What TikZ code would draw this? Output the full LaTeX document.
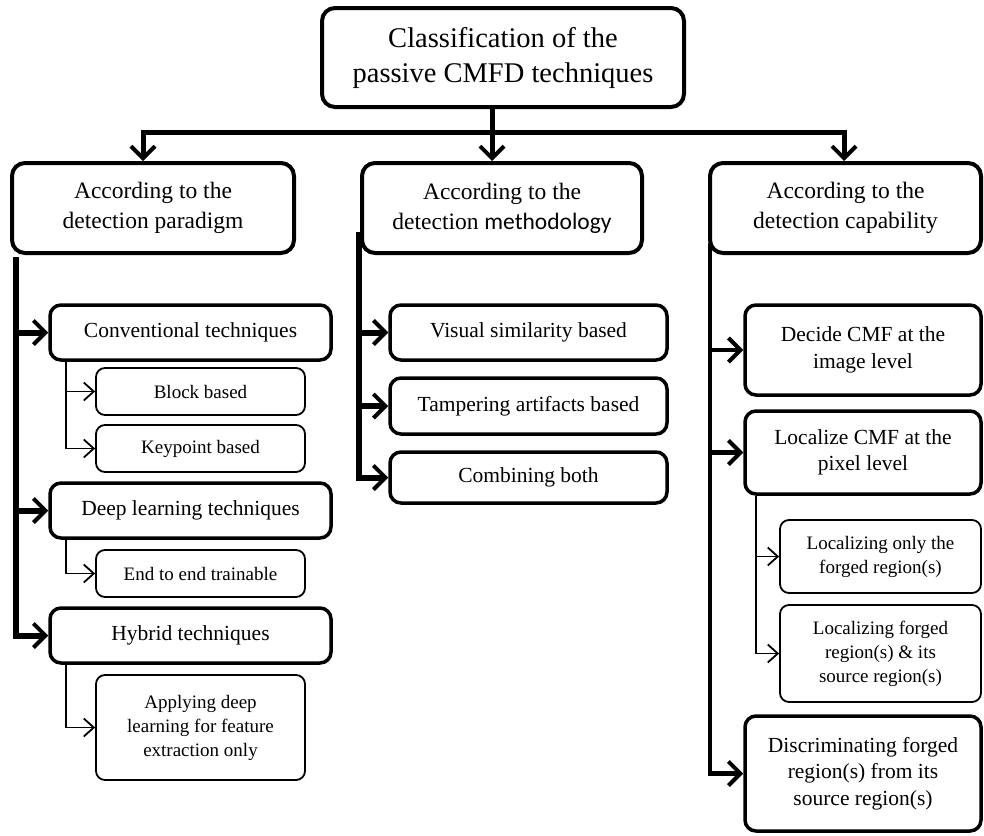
\documentclass[tikz,border=0pt]{standalone}
\usepackage{fontspec}
\setmainfont{Liberation Serif}
\newfontfamily\calfont{Carlito}
\usetikzlibrary{arrows.meta}
\tikzset{
  bigbox/.style={draw, line width=4pt, rounded corners=13pt, align=center, inner sep=0pt},
  midbox/.style={draw, line width=3.5pt, rounded corners=11pt, align=center, inner sep=0pt},
  subbox/.style={draw, line width=1.8pt, rounded corners=9pt, align=center, inner sep=0pt},
  ftop/.style={font=\fontsize{28.5}{35}\selectfont},
  fone/.style={font=\fontsize{23.5}{30}\selectfont},
  fmid/.style={font=\fontsize{21.5}{26.5}\selectfont},
  fsub/.style={font=\fontsize{19}{24}\selectfont},
  topconn/.style={line width=5pt},
  trunkA/.style={line width=6pt},
  trunkB/.style={line width=4.5pt},
  thinconn/.style={line width=1.8pt},
  bigtip/.style={-{Straight Barb[length=12pt,width=24pt,line width=4pt]}},
  bothtip/.style={{Straight Barb[length=12pt,width=24pt,line width=4pt]}-{Straight Barb[length=12pt,width=24pt,line width=4pt]}},
  smalltip/.style={-{Straight Barb[length=10pt,width=18pt,line width=1.8pt]}}
}
\begin{document}
\begin{tikzpicture}[x=1pt,y=-1pt]
\useasboundingbox (0,0) rectangle (984,835);

% top
\node[bigbox,ftop,minimum width=362pt,minimum height=99pt] (top) at (503,57.5) {Classification of the\\passive CMFD techniques};

% level one
\node[bigbox,fone,minimum width=282pt,minimum height=90pt] (p) at (153,208) {According to the\\detection paradigm};
\node[bigbox,fone,minimum width=280pt,minimum height=90pt] (m) at (502,208) {According to the\\detection {\calfont methodology}};
\node[bigbox,fone,minimum width=271pt,minimum height=90pt] (c) at (845.5,208) {According to the\\detection capability};

% left column
\node[midbox,fmid,minimum width=281pt,minimum height=55pt] (conv) at (190.5,332.5) {Conventional techniques};
\node[subbox,fsub,minimum width=209pt,minimum height=47pt] (blk) at (200.5,391.5) {Block based};
\node[subbox,fsub,minimum width=209pt,minimum height=47pt] (kp) at (200.5,448.5) {Keypoint based};
\node[midbox,fmid,minimum width=281pt,minimum height=55pt] (deep) at (190.5,510.5) {Deep learning techniques};
\node[subbox,fsub,minimum width=209pt,minimum height=47pt] (e2e) at (200.5,573.5) {End to end trainable};
\node[midbox,fmid,minimum width=281pt,minimum height=55pt] (hyb) at (190.5,635.5) {Hybrid techniques};
\node[subbox,fsub,minimum width=209pt,minimum height=105pt] (app) at (200.5,727.5) {Applying deep\\learning for feature\\extraction only};

% middle column
\node[midbox,fmid,minimum width=277pt,minimum height=55pt] (vis) at (528.5,332.5) {Visual similarity based};
\node[midbox,fmid,minimum width=277pt,minimum height=56pt] (tam) at (528.5,406) {Tampering artifacts based};
\node[midbox,fmid,minimum width=277pt,minimum height=51pt] (comb) at (528.5,477.5) {Combining both};

% right column
\node[midbox,fmid,minimum width=236pt,minimum height=90pt] (dec) at (863,350) {Decide CMF at the\\image level};
\node[midbox,fmid,minimum width=236pt,minimum height=83pt] (loc) at (863,452.5) {Localize CMF at the\\pixel level};
\node[subbox,fsub,minimum width=201pt,minimum height=73pt] (lonly) at (880.5,556.5) {Localizing only the\\forged region(s)};
\node[subbox,fsub,minimum width=201pt,minimum height=97pt] (lforg) at (880.5,653.5) {Localizing forged\\region(s) \& its\\source region(s)};
\node[midbox,fmid,minimum width=236pt,minimum height=115pt] (disc) at (863,773.5) {Discriminating forged\\region(s) from its\\source region(s)};

% top connectors
\coordinate (stem) at ([xshift=-11pt]top.south);
\coordinate (t1) at ([xshift=-10pt]p.north);
\coordinate (t2) at ([xshift=-10pt]m.north);
\coordinate (t3) at ([xshift=-1.5pt]c.north);
\coordinate (bar) at (492,132);
\draw[topconn,bothtip] (t1) |- (bar) -| (t3);
\draw[topconn,bigtip] (stem) -- (t2);

% left trunk
\coordinate (pl) at ([xshift=6pt,yshift=-2pt]p.south west);
\draw[trunkA,bigtip] (pl) |- (hyb.west);
\draw[trunkA,bigtip] (pl |- conv.west) -- (conv.west);
\draw[trunkA,bigtip] (pl |- deep.west) -- (deep.west);

% left sub lines
\coordinate (cs) at ([xshift=18pt]conv.south west);
\draw[thinconn,smalltip] (cs) |- (kp.west);
\draw[thinconn,smalltip] (cs |- blk.west) -- (blk.west);
\coordinate (ds) at ([xshift=18pt]deep.south west);
\draw[thinconn,smalltip] (ds) |- (e2e.west);
\coordinate (hs) at ([xshift=18pt]hyb.south west);
\draw[thinconn,smalltip] (hs) |- (app.west);

% middle trunk
\coordinate (ml) at ([xshift=-1pt,yshift=-24pt]m.west);
\draw[trunkA,bigtip] (ml) |- (comb.west);
\draw[trunkA,bigtip] (ml |- vis.west) -- (vis.west);
\draw[trunkA,bigtip] (ml |- tam.west) -- (tam.west);

% right trunk
\coordinate (cl) at ([xshift=2pt,yshift=-35pt]c.west);
\draw[trunkB,bigtip] (cl) |- (disc.west);
\draw[trunkB,bigtip] (cl |- dec.west) -- (dec.west);
\draw[trunkB,bigtip] (cl |- loc.west) -- (loc.west);

% right sub lines
\coordinate (ls) at ([xshift=13pt]loc.south west);
\draw[thinconn,smalltip] (ls) |- (lforg.west);
\draw[thinconn,smalltip] (ls |- lonly.west) -- (lonly.west);
\end{tikzpicture}
\end{document}
